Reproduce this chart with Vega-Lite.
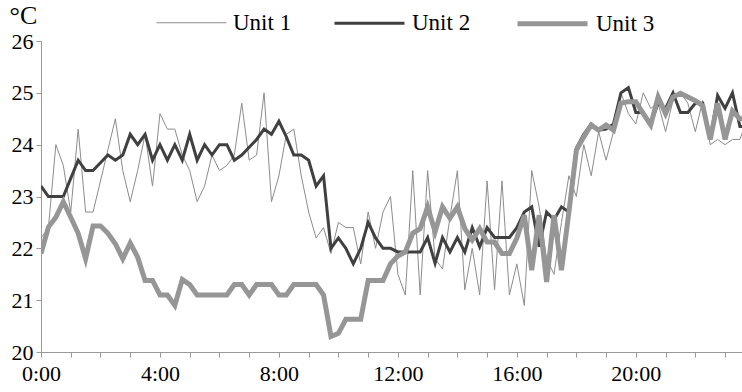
{
  "$schema": "https://vega.github.io/schema/vega-lite/v6.json",
  "width": 701,
  "height": 311,
  "autosize": {"type": "none"},
  "padding": {"left": 41, "top": 41, "right": 0, "bottom": 40},
  "background": "white",
  "config": {"view": {"stroke": null}, "font": "Liberation Serif"},
  "data": {"values": [
    {"t":0,"unit":"Unit 1","v":22.2},{"t":0.25,"unit":"Unit 1","v":22.4},{"t":0.5,"unit":"Unit 1","v":24.0},{"t":0.75,"unit":"Unit 1","v":23.6},{"t":1,"unit":"Unit 1","v":22.7},{"t":1.25,"unit":"Unit 1","v":24.3},{"t":1.5,"unit":"Unit 1","v":22.7},{"t":1.75,"unit":"Unit 1","v":22.7},{"t":2,"unit":"Unit 1","v":23.3},{"t":2.25,"unit":"Unit 1","v":23.9},{"t":2.5,"unit":"Unit 1","v":24.5},{"t":2.75,"unit":"Unit 1","v":23.5},{"t":3,"unit":"Unit 1","v":22.9},{"t":3.25,"unit":"Unit 1","v":23.5},{"t":3.5,"unit":"Unit 1","v":24.2},{"t":3.75,"unit":"Unit 1","v":23.2},
    {"t":4,"unit":"Unit 1","v":24.6},{"t":4.25,"unit":"Unit 1","v":24.3},{"t":4.5,"unit":"Unit 1","v":24.3},{"t":4.75,"unit":"Unit 1","v":23.8},{"t":5,"unit":"Unit 1","v":23.5},{"t":5.25,"unit":"Unit 1","v":22.9},{"t":5.5,"unit":"Unit 1","v":23.2},{"t":5.75,"unit":"Unit 1","v":23.8},{"t":6,"unit":"Unit 1","v":23.5},{"t":6.25,"unit":"Unit 1","v":23.6},{"t":6.5,"unit":"Unit 1","v":23.8},{"t":6.75,"unit":"Unit 1","v":24.8},{"t":7,"unit":"Unit 1","v":23.7},{"t":7.25,"unit":"Unit 1","v":23.8},{"t":7.5,"unit":"Unit 1","v":25.0},{"t":7.75,"unit":"Unit 1","v":22.9},
    {"t":8,"unit":"Unit 1","v":23.4},{"t":8.25,"unit":"Unit 1","v":24.2},{"t":8.5,"unit":"Unit 1","v":24.3},{"t":8.75,"unit":"Unit 1","v":23.4},{"t":9,"unit":"Unit 1","v":22.7},{"t":9.25,"unit":"Unit 1","v":22.2},{"t":9.5,"unit":"Unit 1","v":22.4},{"t":9.75,"unit":"Unit 1","v":21.9},{"t":10,"unit":"Unit 1","v":22.5},{"t":10.25,"unit":"Unit 1","v":22.4},{"t":10.5,"unit":"Unit 1","v":22.4},{"t":10.75,"unit":"Unit 1","v":21.7},{"t":11,"unit":"Unit 1","v":22.7},{"t":11.25,"unit":"Unit 1","v":22.0},{"t":11.5,"unit":"Unit 1","v":22.7},{"t":11.75,"unit":"Unit 1","v":23.0},
    {"t":12,"unit":"Unit 1","v":21.5},{"t":12.25,"unit":"Unit 1","v":21.1},{"t":12.5,"unit":"Unit 1","v":23.5},{"t":12.75,"unit":"Unit 1","v":21.1},{"t":13,"unit":"Unit 1","v":23.5},{"t":13.25,"unit":"Unit 1","v":21.8},{"t":13.5,"unit":"Unit 1","v":21.6},{"t":13.75,"unit":"Unit 1","v":22.6},{"t":14,"unit":"Unit 1","v":23.5},{"t":14.25,"unit":"Unit 1","v":21.2},{"t":14.5,"unit":"Unit 1","v":22.0},{"t":14.75,"unit":"Unit 1","v":21.1},{"t":15,"unit":"Unit 1","v":23.3},{"t":15.25,"unit":"Unit 1","v":21.2},{"t":15.5,"unit":"Unit 1","v":23.3},{"t":15.75,"unit":"Unit 1","v":21.1},
    {"t":16,"unit":"Unit 1","v":21.7},{"t":16.25,"unit":"Unit 1","v":20.9},{"t":16.5,"unit":"Unit 1","v":23.5},{"t":16.75,"unit":"Unit 1","v":22.8},{"t":17,"unit":"Unit 1","v":21.8},{"t":17.25,"unit":"Unit 1","v":21.5},{"t":17.5,"unit":"Unit 1","v":22.5},{"t":17.75,"unit":"Unit 1","v":23.4},{"t":18,"unit":"Unit 1","v":23.0},{"t":18.25,"unit":"Unit 1","v":24.0},{"t":18.5,"unit":"Unit 1","v":23.4},{"t":18.75,"unit":"Unit 1","v":24.25},{"t":19,"unit":"Unit 1","v":23.7},{"t":19.25,"unit":"Unit 1","v":24.25},{"t":19.5,"unit":"Unit 1","v":25.0},{"t":19.75,"unit":"Unit 1","v":24.6},
    {"t":20,"unit":"Unit 1","v":24.4},{"t":20.25,"unit":"Unit 1","v":25.0},{"t":20.5,"unit":"Unit 1","v":24.7},{"t":20.75,"unit":"Unit 1","v":24.8},{"t":21,"unit":"Unit 1","v":24.25},{"t":21.25,"unit":"Unit 1","v":24.85},{"t":21.5,"unit":"Unit 1","v":25.0},{"t":21.75,"unit":"Unit 1","v":24.8},{"t":22,"unit":"Unit 1","v":24.25},{"t":22.25,"unit":"Unit 1","v":24.85},{"t":22.5,"unit":"Unit 1","v":24.0},{"t":22.75,"unit":"Unit 1","v":24.1},{"t":23,"unit":"Unit 1","v":24.0},{"t":23.25,"unit":"Unit 1","v":24.1},{"t":23.5,"unit":"Unit 1","v":24.1},{"t":23.75,"unit":"Unit 1","v":24.5},

    {"t":0,"unit":"Unit 2","v":23.2},{"t":0.25,"unit":"Unit 2","v":23.0},{"t":0.5,"unit":"Unit 2","v":23.0},{"t":0.75,"unit":"Unit 2","v":23.0},{"t":1,"unit":"Unit 2","v":23.35},{"t":1.25,"unit":"Unit 2","v":23.7},{"t":1.5,"unit":"Unit 2","v":23.5},{"t":1.75,"unit":"Unit 2","v":23.5},{"t":2,"unit":"Unit 2","v":23.65},{"t":2.25,"unit":"Unit 2","v":23.8},{"t":2.5,"unit":"Unit 2","v":23.7},{"t":2.75,"unit":"Unit 2","v":23.8},{"t":3,"unit":"Unit 2","v":24.2},{"t":3.25,"unit":"Unit 2","v":24.0},{"t":3.5,"unit":"Unit 2","v":24.2},{"t":3.75,"unit":"Unit 2","v":23.7},
    {"t":4,"unit":"Unit 2","v":24.0},{"t":4.25,"unit":"Unit 2","v":23.7},{"t":4.5,"unit":"Unit 2","v":24.0},{"t":4.75,"unit":"Unit 2","v":23.7},{"t":5,"unit":"Unit 2","v":24.2},{"t":5.25,"unit":"Unit 2","v":23.7},{"t":5.5,"unit":"Unit 2","v":24.0},{"t":5.75,"unit":"Unit 2","v":23.8},{"t":6,"unit":"Unit 2","v":24.0},{"t":6.25,"unit":"Unit 2","v":24.0},{"t":6.5,"unit":"Unit 2","v":23.7},{"t":6.75,"unit":"Unit 2","v":23.8},{"t":7,"unit":"Unit 2","v":23.95},{"t":7.25,"unit":"Unit 2","v":24.1},{"t":7.5,"unit":"Unit 2","v":24.3},{"t":7.75,"unit":"Unit 2","v":24.2},
    {"t":8,"unit":"Unit 2","v":24.45},{"t":8.25,"unit":"Unit 2","v":24.15},{"t":8.5,"unit":"Unit 2","v":23.8},{"t":8.75,"unit":"Unit 2","v":23.8},{"t":9,"unit":"Unit 2","v":23.7},{"t":9.25,"unit":"Unit 2","v":23.2},{"t":9.5,"unit":"Unit 2","v":23.4},{"t":9.75,"unit":"Unit 2","v":22.0},{"t":10,"unit":"Unit 2","v":22.2},{"t":10.25,"unit":"Unit 2","v":22.0},{"t":10.5,"unit":"Unit 2","v":21.7},{"t":10.75,"unit":"Unit 2","v":22.0},{"t":11,"unit":"Unit 2","v":22.5},{"t":11.25,"unit":"Unit 2","v":22.2},{"t":11.5,"unit":"Unit 2","v":22.0},{"t":11.75,"unit":"Unit 2","v":22.0},
    {"t":12,"unit":"Unit 2","v":21.93},{"t":12.25,"unit":"Unit 2","v":21.93},{"t":12.5,"unit":"Unit 2","v":21.93},{"t":12.75,"unit":"Unit 2","v":21.93},{"t":13,"unit":"Unit 2","v":22.21},{"t":13.25,"unit":"Unit 2","v":21.71},{"t":13.5,"unit":"Unit 2","v":22.21},{"t":13.75,"unit":"Unit 2","v":21.93},{"t":14,"unit":"Unit 2","v":22.21},{"t":14.25,"unit":"Unit 2","v":21.93},{"t":14.5,"unit":"Unit 2","v":22.4},{"t":14.75,"unit":"Unit 2","v":22.03},{"t":15,"unit":"Unit 2","v":22.4},{"t":15.25,"unit":"Unit 2","v":22.21},{"t":15.5,"unit":"Unit 2","v":22.21},{"t":15.75,"unit":"Unit 2","v":22.21},
    {"t":16,"unit":"Unit 2","v":22.4},{"t":16.25,"unit":"Unit 2","v":22.7},{"t":16.5,"unit":"Unit 2","v":22.8},{"t":16.75,"unit":"Unit 2","v":22.03},{"t":17,"unit":"Unit 2","v":22.7},{"t":17.25,"unit":"Unit 2","v":22.55},{"t":17.5,"unit":"Unit 2","v":22.8},{"t":17.75,"unit":"Unit 2","v":22.7},{"t":18,"unit":"Unit 2","v":23.93},{"t":18.25,"unit":"Unit 2","v":24.2},{"t":18.5,"unit":"Unit 2","v":24.4},{"t":18.75,"unit":"Unit 2","v":24.28},{"t":19,"unit":"Unit 2","v":24.3},{"t":19.25,"unit":"Unit 2","v":24.4},{"t":19.5,"unit":"Unit 2","v":25.0},{"t":19.75,"unit":"Unit 2","v":25.1},
    {"t":20,"unit":"Unit 2","v":24.62},{"t":20.25,"unit":"Unit 2","v":24.62},{"t":20.5,"unit":"Unit 2","v":24.4},{"t":20.75,"unit":"Unit 2","v":24.8},{"t":21,"unit":"Unit 2","v":24.7},{"t":21.25,"unit":"Unit 2","v":25.0},{"t":21.5,"unit":"Unit 2","v":24.62},{"t":21.75,"unit":"Unit 2","v":24.62},{"t":22,"unit":"Unit 2","v":24.8},{"t":22.25,"unit":"Unit 2","v":24.8},{"t":22.5,"unit":"Unit 2","v":24.1},{"t":22.75,"unit":"Unit 2","v":24.95},{"t":23,"unit":"Unit 2","v":24.7},{"t":23.25,"unit":"Unit 2","v":25.0},{"t":23.5,"unit":"Unit 2","v":24.35},{"t":23.75,"unit":"Unit 2","v":24.35},

    {"t":0,"unit":"Unit 3","v":21.9},{"t":0.25,"unit":"Unit 3","v":22.41},{"t":0.5,"unit":"Unit 3","v":22.6},{"t":0.75,"unit":"Unit 3","v":22.9},{"t":1,"unit":"Unit 3","v":22.6},{"t":1.25,"unit":"Unit 3","v":22.29},{"t":1.5,"unit":"Unit 3","v":21.8},{"t":1.75,"unit":"Unit 3","v":22.43},{"t":2,"unit":"Unit 3","v":22.43},{"t":2.25,"unit":"Unit 3","v":22.29},{"t":2.5,"unit":"Unit 3","v":22.09},{"t":2.75,"unit":"Unit 3","v":21.8},{"t":3,"unit":"Unit 3","v":22.1},{"t":3.25,"unit":"Unit 3","v":21.83},{"t":3.5,"unit":"Unit 3","v":21.38},{"t":3.75,"unit":"Unit 3","v":21.38},
    {"t":4,"unit":"Unit 3","v":21.1},{"t":4.25,"unit":"Unit 3","v":21.1},{"t":4.5,"unit":"Unit 3","v":20.9},{"t":4.75,"unit":"Unit 3","v":21.4},{"t":5,"unit":"Unit 3","v":21.3},{"t":5.25,"unit":"Unit 3","v":21.1},{"t":5.5,"unit":"Unit 3","v":21.1},{"t":5.75,"unit":"Unit 3","v":21.1},{"t":6,"unit":"Unit 3","v":21.1},{"t":6.25,"unit":"Unit 3","v":21.1},{"t":6.5,"unit":"Unit 3","v":21.3},{"t":6.75,"unit":"Unit 3","v":21.3},{"t":7,"unit":"Unit 3","v":21.1},{"t":7.25,"unit":"Unit 3","v":21.3},{"t":7.5,"unit":"Unit 3","v":21.3},{"t":7.75,"unit":"Unit 3","v":21.3},
    {"t":8,"unit":"Unit 3","v":21.1},{"t":8.25,"unit":"Unit 3","v":21.1},{"t":8.5,"unit":"Unit 3","v":21.3},{"t":8.75,"unit":"Unit 3","v":21.3},{"t":9,"unit":"Unit 3","v":21.3},{"t":9.25,"unit":"Unit 3","v":21.3},{"t":9.5,"unit":"Unit 3","v":21.1},{"t":9.75,"unit":"Unit 3","v":20.3},{"t":10,"unit":"Unit 3","v":20.36},{"t":10.25,"unit":"Unit 3","v":20.63},{"t":10.5,"unit":"Unit 3","v":20.63},{"t":10.75,"unit":"Unit 3","v":20.63},{"t":11,"unit":"Unit 3","v":21.38},{"t":11.25,"unit":"Unit 3","v":21.38},{"t":11.5,"unit":"Unit 3","v":21.38},{"t":11.75,"unit":"Unit 3","v":21.7},
    {"t":12,"unit":"Unit 3","v":21.85},{"t":12.25,"unit":"Unit 3","v":21.93},{"t":12.5,"unit":"Unit 3","v":22.29},{"t":12.75,"unit":"Unit 3","v":22.38},{"t":13,"unit":"Unit 3","v":22.8},{"t":13.25,"unit":"Unit 3","v":22.32},{"t":13.5,"unit":"Unit 3","v":22.8},{"t":13.75,"unit":"Unit 3","v":22.58},{"t":14,"unit":"Unit 3","v":22.8},{"t":14.25,"unit":"Unit 3","v":22.38},{"t":14.5,"unit":"Unit 3","v":22.16},{"t":14.75,"unit":"Unit 3","v":22.38},{"t":15,"unit":"Unit 3","v":22.12},{"t":15.25,"unit":"Unit 3","v":22.12},{"t":15.5,"unit":"Unit 3","v":21.9},{"t":15.75,"unit":"Unit 3","v":21.9},
    {"t":16,"unit":"Unit 3","v":22.2},{"t":16.25,"unit":"Unit 3","v":22.64},{"t":16.5,"unit":"Unit 3","v":21.58},{"t":16.75,"unit":"Unit 3","v":22.64},{"t":17,"unit":"Unit 3","v":21.35},{"t":17.25,"unit":"Unit 3","v":22.64},{"t":17.5,"unit":"Unit 3","v":21.58},{"t":17.75,"unit":"Unit 3","v":22.7},{"t":18,"unit":"Unit 3","v":23.89},{"t":18.25,"unit":"Unit 3","v":24.15},{"t":18.5,"unit":"Unit 3","v":24.38},{"t":18.75,"unit":"Unit 3","v":24.28},{"t":19,"unit":"Unit 3","v":24.38},{"t":19.25,"unit":"Unit 3","v":24.28},{"t":19.5,"unit":"Unit 3","v":24.8},{"t":19.75,"unit":"Unit 3","v":24.83},
    {"t":20,"unit":"Unit 3","v":24.83},{"t":20.25,"unit":"Unit 3","v":24.6},{"t":20.5,"unit":"Unit 3","v":24.38},{"t":20.75,"unit":"Unit 3","v":24.92},{"t":21,"unit":"Unit 3","v":24.6},{"t":21.25,"unit":"Unit 3","v":24.92},{"t":21.5,"unit":"Unit 3","v":24.99},{"t":21.75,"unit":"Unit 3","v":24.92},{"t":22,"unit":"Unit 3","v":24.85},{"t":22.25,"unit":"Unit 3","v":24.75},{"t":22.5,"unit":"Unit 3","v":24.1},{"t":22.75,"unit":"Unit 3","v":24.8},{"t":23,"unit":"Unit 3","v":24.1},{"t":23.25,"unit":"Unit 3","v":24.65},{"t":23.5,"unit":"Unit 3","v":24.5},{"t":23.75,"unit":"Unit 3","v":24.5}
  ]},
  "mark": {"type": "line", "clip": true, "strokeJoin": "miter", "strokeCap": "butt"},
  "encoding": {
    "x": {
      "field": "t", "type": "quantitative",
      "scale": {"domain": [0, 23.57], "nice": false, "zero": false},
      "axis": {
        "title": null, "grid": false,
        "values": [0,1,2,3,4,5,6,7,8,9,10,11,12,13,14,15,16,17,18,19,20,21,22,23],
        "labelExpr": "datum.value % 4 === 0 ? datum.value + ':00' : ''",
        "labelFont": "Liberation Serif", "labelFontSize": 22, "labelColor": "black",
        "labelOverlap": false, "labelFlush": false, "labelPadding": 6,
        "domainColor": "#999999", "tickColor": "#999999", "tickSize": 5, "domainWidth": 1, "tickWidth": 1
      }
    },
    "y": {
      "field": "v", "type": "quantitative",
      "scale": {"domain": [20, 26], "nice": false, "zero": false},
      "axis": {
        "values": [20,21,22,23,24,25,26], "grid": false,
        "title": "°C", "titleAngle": 0, "titleAlign": "left", "titleBaseline": "top",
        "titleX": -32, "titleY": -39, "titleFont": "Liberation Serif", "titleFontSize": 26, "titleFontWeight": "normal", "titleColor": "black",
        "labelFont": "Liberation Serif", "labelFontSize": 22, "labelColor": "black", "labelPadding": 3,
        "domainColor": "#999999", "tickColor": "#999999", "tickSize": 5
      }
    },
    "color": {
      "field": "unit", "type": "nominal",
      "scale": {"domain": ["Unit 1", "Unit 2", "Unit 3"], "range": ["#8c8c8c", "#404040", "#969696"]},
      "legend": {
        "title": null, "orient": "none", "direction": "horizontal",
        "legendX": 115, "legendY": -55,
        "symbolType": "stroke", "symbolSize": 4900,
        "labelFont": "Liberation Serif", "labelFontSize": 23, "labelColor": "black",
        "labelOffset": 6, "columnPadding": 36, "padding": 0
      }
    },
    "strokeWidth": {
      "field": "unit", "type": "ordinal",
      "scale": {"type": "point", "padding": 0, "domain": ["Unit 1", "Unit 2", "Unit 3"], "range": [1, 5]},
      "legend": {
        "title": null, "orient": "none", "direction": "horizontal",
        "legendX": 115, "legendY": -55,
        "symbolType": "stroke", "symbolSize": 4900,
        "labelFont": "Liberation Serif", "labelFontSize": 23, "labelColor": "black",
        "labelOffset": 6, "columnPadding": 36, "padding": 0
      }
    }
  }
}
